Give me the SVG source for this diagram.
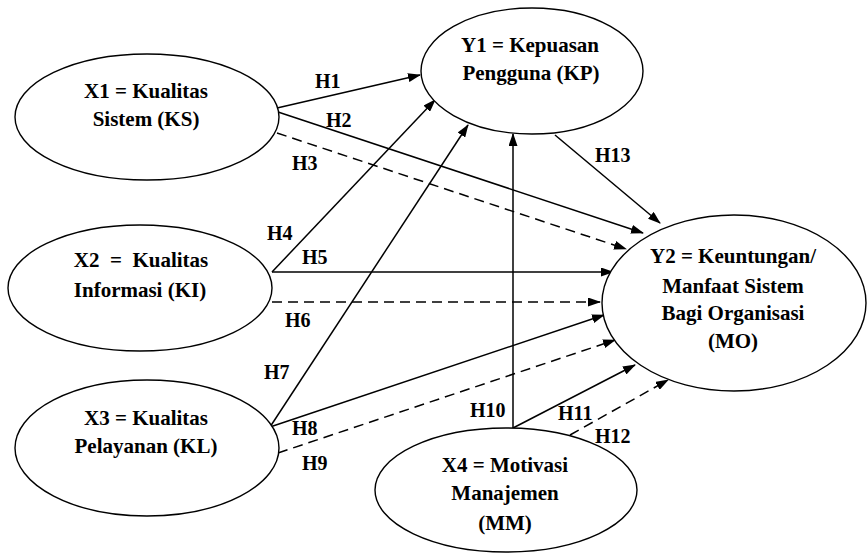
<svg xmlns="http://www.w3.org/2000/svg" width="867" height="558" viewBox="0 0 867 558">
<style>
.node ellipse{fill:#fff;stroke:#000;stroke-width:1.4}
.node text{font-family:"Times New Roman","Liberation Serif","DejaVu Serif",serif;font-weight:bold;font-size:21px;fill:#000;text-anchor:middle}
.lbl{font-family:"Times New Roman","Liberation Serif","DejaVu Serif",serif;font-weight:bold;font-size:20px;fill:#000}
.edge{stroke:#000;stroke-width:1.5;fill:none;marker-end:url(#ah)}
.dash{stroke-dasharray:10 6}
</style>
<defs>
<marker id="ah" markerUnits="userSpaceOnUse" markerWidth="13" markerHeight="9" refX="12" refY="4.5" orient="auto">
<path d="M0,0 L13,4.5 L0,9 z" fill="#000"/>
</marker>
</defs>
<rect width="867" height="558" fill="#fff"/>
<g id="connectors">
<line class="edge" x1="277" y1="108" x2="420" y2="75"/>
<line class="edge" x1="278" y1="112" x2="643" y2="233"/>
<line class="edge dash" x1="277" y1="133" x2="626" y2="249"/>
<line class="edge" x1="555" y1="135" x2="660" y2="223"/>
<line class="edge" x1="272" y1="272" x2="435" y2="100"/>
<line class="edge" x1="272" y1="272" x2="613" y2="272"/>
<line class="edge dash" x1="272" y1="302" x2="600" y2="302"/>
<line class="edge" x1="270" y1="427" x2="468" y2="125"/>
<line class="edge" x1="270" y1="427" x2="604" y2="315"/>
<line class="edge dash" x1="278" y1="453" x2="615" y2="340"/>
<line class="edge" x1="513" y1="428" x2="513" y2="134"/>
<line class="edge" x1="513" y1="428" x2="635" y2="365"/>
<line class="edge dash" x1="570" y1="435" x2="668" y2="380"/>
</g>
<g id="labels">
<text class="lbl" x="315" y="88">H1</text>
<text class="lbl" x="326" y="127">H2</text>
<text class="lbl" x="292" y="170">H3</text>
<text class="lbl" x="267" y="240">H4</text>
<text class="lbl" x="302" y="264">H5</text>
<text class="lbl" x="285" y="327">H6</text>
<text class="lbl" x="264" y="379">H7</text>
<text class="lbl" x="292" y="435">H8</text>
<text class="lbl" x="302" y="470">H9</text>
<text class="lbl" x="470" y="417">H10</text>
<text class="lbl" x="558" y="420">H11</text>
<text class="lbl" x="595" y="443">H12</text>
<text class="lbl" x="595" y="162">H13</text>
</g>
<g id="X1" class="node">
<ellipse cx="147" cy="117" rx="132" ry="63"/>
<text x="146" y="98">X1 = Kualitas</text>
<text x="146" y="126">Sistem (KS)</text>
</g>
<g id="Y1" class="node">
<ellipse cx="532" cy="71" rx="111" ry="63"/>
<text x="530" y="52">Y1 = Kepuasan</text>
<text x="531" y="80">Pengguna (KP)</text>
</g>
<g id="X2" class="node">
<ellipse cx="140" cy="288" rx="132" ry="63"/>
<text x="141" y="267" xml:space="preserve">X2  =  Kualitas</text>
<text x="140" y="297">Informasi (KI)</text>
</g>
<g id="X3" class="node">
<ellipse cx="147" cy="448" rx="132" ry="68"/>
<text x="146" y="425">X3 = Kualitas</text>
<text x="146" y="453">Pelayanan (KL)</text>
</g>
<g id="X4" class="node">
<ellipse cx="506" cy="490" rx="131" ry="62"/>
<text x="505" y="472">X4 = Motivasi</text>
<text x="505" y="500">Manajemen</text>
<text x="505" y="530">(MM)</text>
</g>
<g id="Y2" class="node">
<ellipse cx="734" cy="303" rx="132" ry="88"/>
<text x="733" y="263">Y2 = Keuntungan/</text>
<text x="733" y="293">Manfaat Sistem</text>
<text x="733" y="320">Bagi Organisasi</text>
<text x="733" y="348">(MO)</text>
</g>
</svg>
